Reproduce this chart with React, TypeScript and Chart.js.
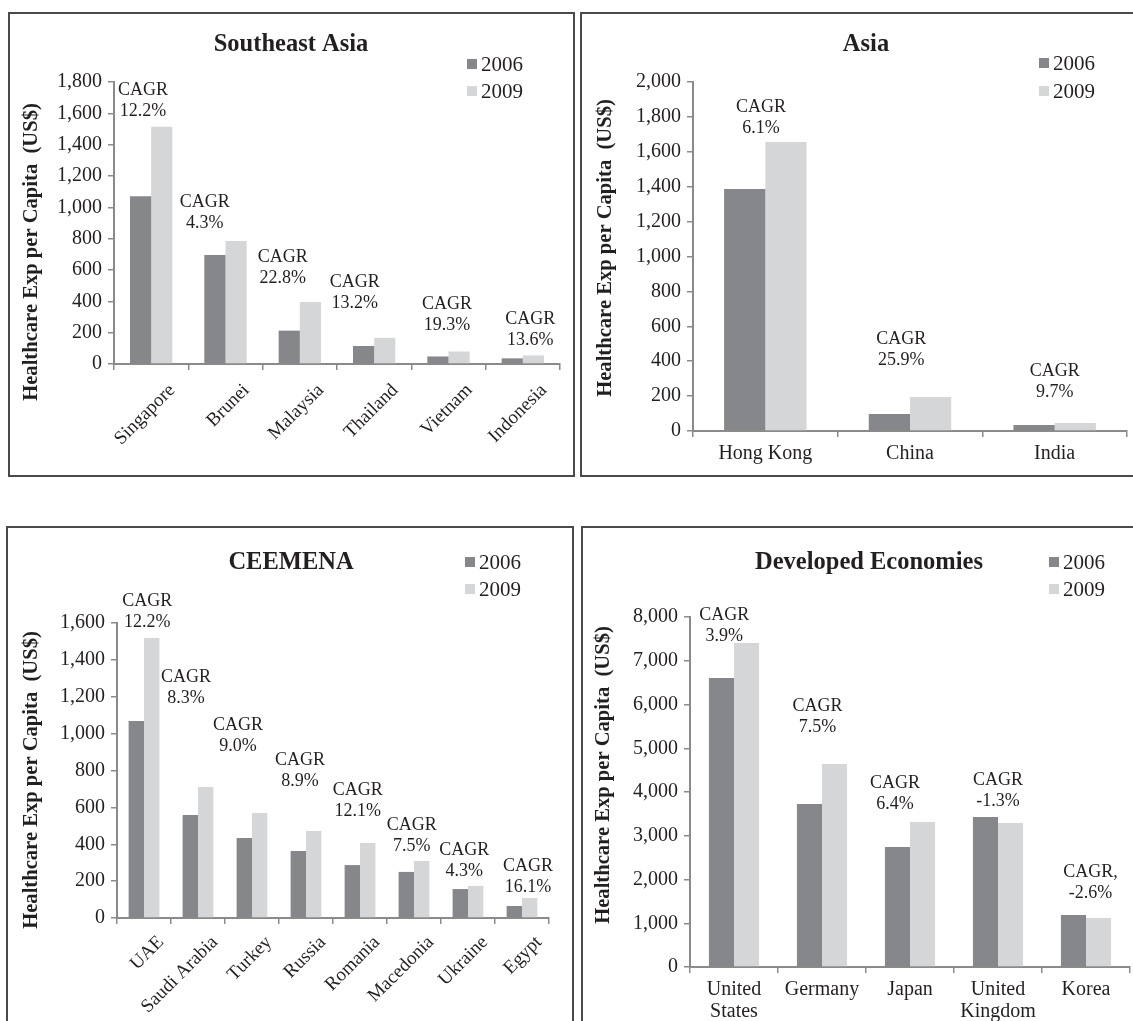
import React, { useEffect, useRef } from "react";
import { Chart, registerables } from "chart.js";

Chart.register(...registerables);

// ---------------- DATA ----------------
const seriesLabels = ["2006", "2009"];
const yAxisTitle = "Healthcare Exp per Capita  (US$)";

const seaTitle = "Southeast Asia";
const seaCategories = ["Singapore", "Brunei", "Malaysia", "Thailand", "Vietnam", "Indonesia"];
const sea2006 = [1070, 695, 213, 115, 48, 36];
const sea2009 = [1515, 785, 395, 167, 80, 55];
const seaCagrHead = ["CAGR", "CAGR", "CAGR", "CAGR", "CAGR", "CAGR"];
const seaCagr = ["12.2%", "4.3%", "22.8%", "13.2%", "19.3%", "13.6%"];
const seaYMax = 1800;
const seaYStep = 200;

const asiaTitle = "Asia";
const asiaCategories = ["Hong Kong", "China", "India"];
const asia2006 = [1387, 97, 34];
const asia2009 = [1656, 195, 46];
const asiaCagrHead = ["CAGR", "CAGR", "CAGR"];
const asiaCagr = ["6.1%", "25.9%", "9.7%"];
const asiaYMax = 2000;
const asiaYStep = 200;

const ceeTitle = "CEEMENA";
const ceeCategories = ["UAE", "Saudi Arabia", "Turkey", "Russia", "Romania", "Macedonia", "Ukraine", "Egypt"];
const cee2006 = [1068, 558, 434, 363, 287, 250, 157, 65];
const cee2009 = [1518, 710, 569, 472, 407, 309, 174, 108];
const ceeCagrHead = ["CAGR", "CAGR", "CAGR", "CAGR", "CAGR", "CAGR", "CAGR", "CAGR"];
const ceeCagr = ["12.2%", "8.3%", "9.0%", "8.9%", "12.1%", "7.5%", "4.3%", "16.1%"];
const ceeYMax = 1600;
const ceeYStep = 200;

const devTitle = "Developed Economies";
const devCategories: (string | string[])[] = [["United", "States"], "Germany", "Japan", ["United", "Kingdom"], "Korea"];
const dev2006 = [6606, 3726, 2743, 3429, 1189];
const dev2009 = [7406, 4640, 3314, 3291, 1120];
const devCagrHead = ["CAGR", "CAGR", "CAGR", "CAGR", "CAGR,"];
const devCagr = ["3.9%", "7.5%", "6.4%", "-1.3%", "-2.6%"];
const devYMax = 8000;
const devYStep = 1000;

// ---------------- STYLE / LAYOUT ----------------
const FONT = '"Liberation Serif", "Times New Roman", Times, serif';
const TEXT = "#231f20";
const DARK = "#86878b";
const LIGHT = "#d5d6d8";
const AXIS = "#8a8a8a";
const BORDER = "#4a4a4a";

type Panel = {
  title: string;
  categories: (string | string[])[];
  a: number[];
  b: number[];
  head: string[];
  pct: string[];
  yMax: number;
  yStep: number;
  box: { l: number; t: number; w: number; h: number };
  area: { l: number; r: number; t: number; b: number };
  titlePos: [number, number];
  legendPos: [number, number, number];
  yTitlePos: [number, number];
  // CAGR label anchors: [category-width offset, value level of lower line]
  cagrAt: [number, number][];
  rotate: boolean;
  xFont: number;
  xPad: number;
  xOffset: number;
};

const panels: Panel[] = [
  {
    title: seaTitle, categories: seaCategories, a: sea2006, b: sea2009, head: seaCagrHead, pct: seaCagr,
    yMax: seaYMax, yStep: seaYStep,
    box: { l: 8, t: 12, w: 567, h: 465 },
    area: { l: 114, r: 560, t: 82, b: 364 },
    titlePos: [291, 45], legendPos: [467, 64, 91], yTitlePos: [32, 252],
    cagrAt: [[-0.11, 1615], [-0.28, 900], [-0.23, 549], [-0.26, 389], [-0.02, 249], [0.1, 153]],
    rotate: true, xFont: 19, xPad: 10, xOffset: 21,
  },
  {
    title: asiaTitle, categories: asiaCategories, a: asia2006, b: asia2009, head: asiaCagrHead, pct: asiaCagr,
    yMax: asiaYMax, yStep: asiaYStep,
    box: { l: 580, t: 12, w: 565, h: 465 },
    area: { l: 693, r: 1127, t: 82, b: 431 },
    titlePos: [866, 45], legendPos: [1039, 63, 91], yTitlePos: [606, 248],
    cagrAt: [[-0.03, 1736], [-0.06, 407], [0, 223]],
    rotate: false, xFont: 20, xPad: 6, xOffset: 0,
  },
  {
    title: ceeTitle, categories: ceeCategories, a: cee2006, b: cee2009, head: ceeCagrHead, pct: ceeCagr,
    yMax: ceeYMax, yStep: ceeYStep,
    box: { l: 6, t: 526, w: 568, h: 520 },
    area: { l: 117, r: 549, t: 623, b: 918 },
    titlePos: [291, 563], legendPos: [465, 562, 589], yTitlePos: [32, 780],
    cagrAt: [[0.06, 1605], [-0.22, 1193], [-0.26, 933], [-0.11, 743], [-0.04, 580], [-0.04, 390], [-0.07, 255], [0.11, 168]],
    rotate: true, xFont: 19, xPad: 8, xOffset: 17,
  },
  {
    title: devTitle, categories: devCategories, a: dev2006, b: dev2009, head: devCagrHead, pct: devCagr,
    yMax: devYMax, yStep: devYStep,
    box: { l: 581, t: 526, w: 565, h: 520 },
    area: { l: 690, r: 1130, t: 617, b: 967 },
    titlePos: [869, 563], legendPos: [1049, 562, 589], yTitlePos: [604, 775],
    cagrAt: [[-0.11, 7566], [-0.05, 5486], [-0.17, 3726], [0, 3794], [0.05, 1691]],
    rotate: false, xFont: 20, xPad: 6, xOffset: 0,
  },
];

const decorPlugin = {
  id: "decor",
  afterDraw(chart: any, _args: any, opts: any) {
    const p: Panel = opts.panel;
    if (!p) return;
    const ox = p.box.l + 2;
    const oy = p.box.t + 2;
    const ctx: CanvasRenderingContext2D = chart.ctx;
    ctx.save();
    ctx.fillStyle = TEXT;
    ctx.textBaseline = "middle";
    // title
    ctx.font = `bold 24.5px ${FONT}`;
    ctx.textAlign = "center";
    ctx.fillText(p.title, p.titlePos[0] - ox, p.titlePos[1] - oy);
    // legend
    chart.data.datasets.forEach((ds: any, i: number) => {
      const x = p.legendPos[0] - ox;
      const y = p.legendPos[1 + i] - oy;
      ctx.fillStyle = ds.backgroundColor;
      ctx.fillRect(x, y - 5, 10, 10);
      ctx.fillStyle = TEXT;
      ctx.font = `21px ${FONT}`;
      ctx.textAlign = "left";
      ctx.fillText(ds.label, x + 14, y + 1);
    });
    // y axis title
    ctx.save();
    ctx.translate(p.yTitlePos[0] - ox, p.yTitlePos[1] - oy);
    ctx.rotate(-Math.PI / 2);
    ctx.font = `bold 20.6px ${FONT}`;
    ctx.textAlign = "center";
    ctx.fillText(yAxisTitle, 0, 0);
    ctx.restore();
    // CAGR labels
    const xs = chart.scales.x;
    const ys = chart.scales.y;
    const n = p.categories.length;
    const cw = (xs.right - xs.left) / n;
    ctx.font = `18px ${FONT}`;
    ctx.textAlign = "center";
    ctx.fillStyle = TEXT;
    p.pct.forEach((txt, i) => {
      const [dx, v] = p.cagrAt[i];
      const x = xs.getPixelForValue(i) + dx * cw;
      const y = ys.getPixelForValue(v);
      ctx.fillText(p.head[i], x, y - 21);
      ctx.fillText(txt, x, y);
    });
    ctx.restore();
  },
};

function PanelChart({ p }: { p: Panel }) {
  const ref = useRef<HTMLCanvasElement | null>(null);
  const cw = p.box.w - 4;
  const ch = p.box.h - 4;
  useEffect(() => {
    if (!ref.current) return;
    const ox = p.box.l + 2;
    const oy = p.box.t + 2;
    const left = p.area.l - ox;
    const right = p.area.r - ox;
    const top = p.area.t - oy;
    const bottom = p.area.b - oy;
    const yW = left;
    const xH = ch - bottom;
    const chart = new Chart(ref.current, {
      type: "bar",
      data: {
        labels: p.categories as any,
        datasets: [
          { label: seriesLabels[0], data: p.a, backgroundColor: DARK, borderWidth: 0, categoryPercentage: 0.57, barPercentage: 1.0 },
          { label: seriesLabels[1], data: p.b, backgroundColor: LIGHT, borderWidth: 0, categoryPercentage: 0.57, barPercentage: 1.0 },
        ],
      },
      options: {
        animation: false,
        responsive: false,
        devicePixelRatio: 1,
        layout: { padding: { left: 0, top: top, right: cw - right, bottom: 0 } },
        plugins: {
          legend: { display: false },
          title: { display: false },
          tooltip: { enabled: false },
          decor: { panel: p },
        } as any,
        scales: {
          x: {
            grid: { display: true, drawOnChartArea: false, drawTicks: true, tickLength: 6, color: AXIS, lineWidth: 1.5, offset: true },
            border: { display: true, color: AXIS, width: 2 },
            ticks: {
              color: TEXT,
              font: { family: FONT, size: p.xFont, lineHeight: 1.1 },
              autoSkip: false,
              minRotation: p.rotate ? 45 : 0,
              maxRotation: p.rotate ? 45 : 0,
              padding: p.xPad,
              labelOffset: p.xOffset,
            },
            afterFit: (s: any) => {
              s.height = xH;
              s.paddingLeft = 0; s.paddingRight = 0; s.paddingTop = 0; s.paddingBottom = 0;
            },
          },
          y: {
            min: 0,
            max: p.yMax,
            grid: { display: true, drawOnChartArea: false, drawTicks: true, tickLength: 6, color: AXIS, lineWidth: 1.5 },
            border: { display: true, color: AXIS, width: 2 },
            ticks: {
              stepSize: p.yStep,
              color: TEXT,
              font: { family: FONT, size: 20 },
              padding: 6,
              callback: (v: any) => Number(v).toLocaleString("en-US"),
            },
            afterFit: (s: any) => {
              s.width = yW;
              s.paddingLeft = 0; s.paddingRight = 0; s.paddingTop = 0; s.paddingBottom = 0;
            },
          },
        },
      } as any,
      plugins: [decorPlugin as any],
    });
    return () => chart.destroy();
  }, []);
  return (
    <div
      style={{
        position: "absolute",
        left: p.box.l,
        top: p.box.t,
        width: p.box.w,
        height: p.box.h,
        boxSizing: "border-box",
        border: `2px solid ${BORDER}`,
        background: "#fff",
      }}
    >
      <canvas ref={ref} width={cw} height={ch} style={{ display: "block", width: cw, height: ch }} />
    </div>
  );
}

export default function App() {
  return (
    <div
      style={{
        position: "absolute",
        left: 0,
        top: 0,
        width: 1133,
        height: 1021,
        overflow: "hidden",
        background: "#fff",
      }}
    >
      {panels.map((p, i) => (
        <PanelChart key={i} p={p} />
      ))}
    </div>
  );
}
